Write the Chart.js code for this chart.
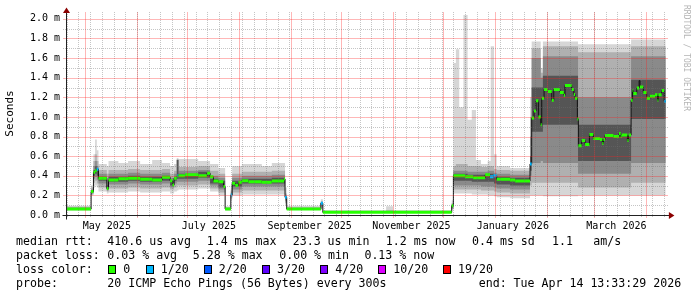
<!DOCTYPE html>
<html>
<head>
<meta charset="utf-8">
<script src="https://cdn.jsdelivr.net/npm/chart.js@4.4.0/dist/chart.umd.min.js"></script>
<style>
html, body { margin: 0; padding: 0; background: #fff; }
#wrap { width: 697px; height: 297px; }
</style>
</head>
<body>
<div id="wrap"><canvas id="smokeChart" width="697" height="297"></canvas></div>
<script>
// x = days since graph start (360 days ending Tue Apr 14 13:33:29 2026)
const startTime = Date.UTC(2025, 3, 19, 13, 33, 29);
const spanDays = 360;

// median rtt (ms) per step, and lost pings out of 20
const medDay = [0, 15.0, 16.4, 17.4, 18.4, 19.4, 24.4, 25.4, 31.3, 37.1, 44.3, 51.5, 57.4, 62.2, 63.6, 64.6,
    66.2, 66.6, 67.2, 71.2, 79.0, 84.2, 86.1, 88.1, 91.1, 94.1, 95.1, 98.5, 99.3, 101.1, 103.0, 105.1,
    109.0, 117.0, 123.0, 130.3, 130.9, 131.9, 152.3, 153.5, 230.5, 231.5, 238.5, 243.3, 250.5, 253.4,
    255.4, 257.4, 265.4, 268.4, 277.3, 278.3, 279.7, 280.9, 282.3, 283.7, 284.3, 285.7, 287.9, 290.3,
    291.5, 295.2, 297.5, 298.2, 302.2, 303.5, 304.2, 305.6, 306.2, 308.2, 310.2, 312.8, 315.1, 319.1,
    320.5, 321.2, 322.1, 327.1, 330.5, 331.5, 332.1, 335.5, 336.2, 337.7, 338.6, 339.0, 341.1, 342.5,
    343.0, 345.0, 347.0, 349.0, 352.0, 353.5, 354.0, 356.0, 357.5];
const medMs = [0.061, 0.24, 0.436, 0.45, 0.467, 0.375, 0.27, 0.357, 0.37, 0.375, 0.365, 0.357, 0.385, 0.35, 0.307, 0.375,
    0.39, 0.40, 0.40, 0.41, 0.40, 0.426, 0.39, 0.347, 0.34, 0.29, 0.061, 0.204, 0.324, 0.30, 0.334, 0.35,
    0.34, 0.334, 0.347, 0.367, 0.18, 0.061, 0.12, 0.027, 0.095, 0.40, 0.39, 0.38, 0.41, 0.39,
    0.40, 0.365, 0.357, 0.347, 0.52, 0.99, 1.06, 1.165, 1.0, 0.92, 1.19, 1.28, 1.26, 1.17,
    1.28, 1.25, 1.22, 1.32, 1.28, 1.23, 1.19, 0.98, 0.705, 0.76, 0.72, 0.82, 0.78, 0.77,
    0.73, 0.77, 0.81, 0.80, 0.83, 0.80, 0.815, 0.76, 0.815, 1.17, 1.27, 1.24, 1.295, 1.37,
    1.305, 1.25, 1.19, 1.21, 1.226, 1.17, 1.226, 1.27, 1.16];
const medLoss = [0, 0, 0, 0, 1, 0, 0, 0, 0, 0, 0, 0, 0, 0, 0, 0,
    0, 1, 0, 0, 0, 0, 0, 0, 0, 0, 0, 1, 0, 0, 0, 0,
    0, 0, 0, 0, 1, 0, 1, 0, 0, 0, 0, 0, 0, 1,
    1, 0, 0, 0, 1, 0, 0, 0, 0, 0, 0, 0, 0, 0,
    0, 0, 0, 0, 0, 0, 0, 0, 0, 0, 0, 0, 0, 0,
    0, 0, 0, 0, 0, 0, 0, 0, 0, 0, 0, 0, 0, 0,
    0, 0, 0, 0, 0, 0, 0, 0, 1];
const medEnd = 358.4;

// smoke: spread of the 20 pings per step (ms)
const smokeDay = [0, 15.0, 16.4, 17.4, 18.4, 19.4, 24.4, 25.4, 31.3, 37.1, 44.3, 51.5, 57.4, 62.2, 64.6, 66.2,
    67.2, 79.0, 86.1, 91.1, 95.1, 98.5, 99.3, 105.1, 117.0, 123.0, 130.9, 131.9, 152.3, 153.5, 191.3, 195.5,
    230.5, 231.5, 233.0, 235.0, 237.5, 240.0, 242.5, 245.0, 248.0, 252.0, 253.8, 255.8, 257.4, 265.4,
    277.3, 278.3, 283.7, 285.0, 306.0, 337.7];
const smokeMin = [.045, .20, .28, .30, .28, .24, .22, .23, .23, .24, .23, .23, .24, .22, .24, .25,
    .26, .27, .24, .20, .045, .15, .20, .21, .21, .21, .10, .050, .05, .020, .020, .020,
    .05, .22, .22, .22, .22, .22, .21, .21, .21, .20, .20, .19, .18, .17,
    .20, .20, .20, .19, .20, .20];
const smokeLo1 = [.050, .21, .33, .35, .32, .28, .24, .27, .27, .28, .27, .27, .28, .26, .28, .30,
    .30, .31, .27, .23, .050, .17, .23, .25, .25, .25, .12, .053, .07, .021, .021, .021,
    .06, .26, .26, .26, .26, .26, .26, .26, .25, .25, .25, .24, .23, .22,
    .30, .33, .33, .33, .28, .33];
const smokeLo2 = [.055, .22, .37, .39, .36, .32, .25, .31, .31, .32, .31, .31, .32, .28, .32, .34,
    .34, .35, .30, .26, .055, .18, .26, .29, .29, .29, .14, .056, .09, .023, .023, .023,
    .07, .30, .30, .30, .30, .30, .30, .30, .29, .29, .29, .28, .27, .26,
    .40, .53, .55, .53, .42, .53];
const smokeLo3 = [.058, .23, .40, .42, .40, .35, .26, .34, .34, .35, .34, .34, .35, .30, .35, .37,
    .37, .38, .32, .28, .058, .19, .29, .32, .32, .32, .16, .058, .11, .025, .025, .025,
    .08, .35, .35, .35, .35, .35, .34, .34, .34, .34, .34, .32, .31, .30,
    .45, .85, .85, .92, .55, .98];
const smokeHi3 = [.068, .25, .46, .50, .47, .39, .30, .39, .39, .40, .39, .39, .40, .35, .39, .56,
    .42, .44, .37, .35, .066, .22, .35, .37, .37, .38, .19, .066, .125, .030, .030, .030,
    .10, .42, .42, .42, .42, .41, .41, .41, .41, .42, .42, .40, .39, .38,
    .60, 1.30, 1.30, 1.42, .92, 1.38];
const smokeHi2 = [.075, .26, .50, .55, .50, .42, .36, .42, .42, .43, .42, .42, .43, .38, .42, .56,
    .45, .46, .40, .38, .070, .24, .38, .40, .40, .41, .20, .072, .13, .034, .036, .034,
    .11, .45, .45, .45, .45, .44, .44, .44, .44, .45, .45, .43, .42, .41,
    .80, 1.60, 1.40, 1.62, 1.20, 1.62];
const smokeHi1 = [.085, .28, .55, .62, .55, .46, .42, .46, .46, .47, .46, .46, .47, .42, .45, .57,
    .49, .50, .45, .42, .080, .26, .42, .44, .44, .45, .22, .080, .14, .040, .050, .040,
    .12, .50, .52, .52, .52, .50, .50, .50, .49, .50, .50, .47, .46, .45,
    1.00, 1.70, 1.45, 1.72, 1.66, 1.72];
const smokeMax = [.095, .30, .62, .77, .66, .52, .50, .55, .53, .55, .52, .56, .53, .50, .52, .58,
    .57, .55, .52, .48, .090, .30, .50, .52, .50, .53, .28, .095, .16, .050, .090, .050,
    .15, 1.55, 1.69, 1.10, 2.04, .97, 1.07, .56, .52, .55, 1.72, .62, .50, .48,
    1.20, 1.77, 1.50, 1.77, 1.74, 1.79];
const smokeEnd = 358.4;

// axis ticks
const yTicks = [0, 0.1, 0.2, 0.3, 0.4, 0.5, 0.6, 0.7, 0.8, 0.9, 1.0, 1.1, 1.2, 1.3, 1.4, 1.5, 1.6, 1.7, 1.8, 1.9, 2.0];
const yMajor = [0, 0.2, 0.4, 0.6, 0.8, 1.0, 1.2, 1.4, 1.6, 1.8, 2.0];
const xLabels = ['May 2025', 'July 2025', 'September 2025', 'November 2025', 'January 2026', 'March 2026'];
const xLabelDays = [24.4, 85.4, 145.6, 206.4, 267.0, 328.9];

const lossLevels = [0, 1, 2, 3, 4, 10, 19];
const lossColors = ['#26ff00', '#00b8ff', '#0059ff', '#5e00ff', '#7e00ff', '#dd00ff', '#ff0000'];
const smokeShades = ['#d6d6d6', '#b0b0b0', '#8a8a8a', '#555555'];

// grid ticks: Sundays (minor) and month starts (major)
const DAY = 86400000;
const gridTicks = [];
for (let m = 4; m < 16; m++) {
    gridTicks.push({ value: (Date.UTC(2025, m, 1) - startTime) / DAY, major: true });
}
for (let t = Date.UTC(2025, 3, 20); t < startTime + spanDays * DAY; t += 7 * DAY) {
    gridTicks.push({ value: (t - startTime) / DAY, major: false });
}
gridTicks.sort((a, b) => a.value - b.value);

function colorForLoss(n) {
    let c = lossColors[0];
    lossLevels.forEach((l, i) => { if (n >= l) c = lossColors[i]; });
    return c;
}

function stepPoints(days, vals, end) {
    const pts = days.map((d, i) => ({ x: d, y: vals[i] }));
    pts.push({ x: end, y: vals[vals.length - 1] });
    return pts;
}

// chart.js 'before' = hold the value until the next point
const STEP = 'before';

const datasets = [];
const bands = [[smokeMin, smokeMax], [smokeLo1, smokeHi1], [smokeLo2, smokeHi2], [smokeLo3, smokeHi3]];
bands.forEach(([lo, hi], k) => {
    datasets.push({
        data: stepPoints(smokeDay, lo, smokeEnd), stepped: STEP,
        borderWidth: 0, borderColor: 'rgba(0,0,0,0)', pointRadius: 0, fill: false, order: 10 - k
    });
    datasets.push({
        data: stepPoints(smokeDay, hi, smokeEnd), stepped: STEP,
        borderWidth: 0, borderColor: 'rgba(0,0,0,0)', pointRadius: 0,
        fill: '-1', backgroundColor: smokeShades[k], order: 10 - k
    });
});

// thin black median line (shows the jumps)
datasets.push({
    data: stepPoints(medDay, medMs, medEnd), stepped: STEP,
    borderWidth: 1, borderColor: '#111', pointRadius: 0, fill: false, order: 2
});

// coloured median pieces, only the flat parts
const medPieces = [];
medDay.forEach((d, i) => {
    const next = i + 1 < medDay.length ? medDay[i + 1] : medEnd;
    medPieces.push({ x: d, y: medMs[i] });
    medPieces.push({ x: next, y: medMs[i] });
});
datasets.push({
    data: medPieces, borderWidth: 3, pointRadius: 0, fill: false, order: 1,
    borderColor: lossColors[0],
    segment: {
        borderColor: ctx => ctx.p0.parsed.x === ctx.p1.parsed.x
            ? 'rgba(0,0,0,0)'
            : colorForLoss(medLoss[Math.floor(ctx.p0DataIndex / 2)])
    }
});

const MONO = '"DejaVu Sans Mono", "Liberation Mono", monospace';
const MINOR = 'rgba(110,110,110,0.4)';
const MAJOR = 'rgba(255,30,30,0.32)';

// rrdtool style grid, snapped to pixels, drawn over the smoke
const gridOverlay = {
    id: 'gridOverlay',
    afterDatasetsDraw(chart) {
        const { ctx, chartArea: a, scales } = chart;
        const top = Math.round(a.top), bottom = Math.round(a.bottom);
        const left = Math.round(a.left), right = Math.round(a.right);
        const line = (x1, y1, x2, y2, major) => {
            ctx.strokeStyle = major ? MAJOR : MINOR;
            ctx.setLineDash(major ? [] : [1, 1]);
            ctx.beginPath();
            ctx.moveTo(x1, y1);
            ctx.lineTo(x2, y2);
            ctx.stroke();
        };
        ctx.save();
        ctx.lineWidth = 1;
        scales.x.ticks.forEach(t => {
            const px = Math.round(scales.x.getPixelForValue(t.value)) + 0.5;
            if (px < left || px > right) return;
            line(px, top, px, bottom + 3, t.major);
        });
        scales.y.ticks.forEach(t => {
            if (t.value === 0) return;
            const py = Math.round(scales.y.getPixelForValue(t.value)) + 0.5;
            line(left - 3, py, right, py, yMajor.includes(t.value));
        });
        ctx.restore();
    }
};

const decorations = {
    id: 'decorations',
    afterDraw(chart) {
        const ctx = chart.ctx;
        const a = chart.chartArea;
        const ax = Math.floor(a.left) + 0.5;
        const ay = Math.floor(a.bottom) + 0.5;
        ctx.save();
        // axes
        ctx.strokeStyle = '#222';
        ctx.lineWidth = 1;
        ctx.beginPath();
        ctx.moveTo(ax, ay + 4);
        ctx.lineTo(ax, 10);
        ctx.moveTo(ax - 4, ay);
        ctx.lineTo(a.right + 1, ay);
        ctx.stroke();
        ctx.fillStyle = '#8b0000';
        ctx.beginPath();
        ctx.moveTo(ax - 3.5, 13);
        ctx.lineTo(ax + 3.5, 13);
        ctx.lineTo(ax, 7.5);
        ctx.closePath();
        ctx.fill();
        ctx.beginPath();
        ctx.moveTo(a.right + 0.5, ay - 3.5);
        ctx.lineTo(a.right + 0.5, ay + 3.5);
        ctx.lineTo(a.right + 6, ay);
        ctx.closePath();
        ctx.fill();

        // watermark
        ctx.fillStyle = '#b5b5b5';
        ctx.font = '8px ' + MONO;
        ctx.textBaseline = 'middle';
        ctx.translate(686.5, 5);
        ctx.rotate(Math.PI / 2);
        ctx.fillText('RRDTOOL / TOBI OETIKER', 0, 0);
        ctx.restore();

        // legend
        ctx.save();
        ctx.fillStyle = '#000';
        ctx.font = '11.6px ' + MONO;
        ctx.textBaseline = 'alphabetic';
        const rows = [
            [245.3, [[16, 'median rtt:'], [107.3, '410.6 us avg'], [206.7, '1.4 ms max'], [292.7, '23.3 us min'],
                [385.8, '1.2 ms now'], [472, '0.4 ms sd'], [552, '1.1'], [593.3, 'am/s']]],
            [259.3, [[16, 'packet loss:'], [107.3, '0.03 % avg'], [192.8, '5.28 % max'], [279.2, '0.00 % min'],
                [364.4, '0.13 % now']]],
            [273.3, [[16, 'loss color:']]],
            [287.4, [[16, 'probe:'], [107.3, '20 ICMP Echo Pings (56 Bytes) every 300s'],
                [478.7, 'end: Tue Apr 14 13:33:29 2026']]]
        ];
        rows.forEach(([y, parts]) => parts.forEach(([x, t]) => ctx.fillText(t, x, y)));
        const swatchX = [108, 145.5, 203.5, 261.8, 320, 378, 442.7];
        lossLevels.forEach((l, i) => {
            const x = Math.round(swatchX[i]);
            ctx.fillStyle = lossColors[i];
            ctx.fillRect(x, 265, 7, 8);
            ctx.strokeStyle = '#000';
            ctx.strokeRect(x + 0.5, 265.5, 7, 8);
            ctx.fillStyle = '#000';
            ctx.fillText(l === 0 ? '0' : l + '/20', swatchX[i] + 15.3, 273.3);
        });
        ctx.restore();
    }
};

Chart.defaults.font.family = MONO;
Chart.defaults.font.size = 10;
Chart.defaults.color = '#000';

new Chart(document.getElementById('smokeChart').getContext('2d'), {
    type: 'line',
    data: { datasets },
    options: {
        responsive: false,
        animation: false,
        events: [],
        layout: { padding: { left: 0, top: 12, right: 28.6, bottom: 62 } },
        plugins: { legend: { display: false }, tooltip: { enabled: false } },
        scales: {
            x: {
                type: 'linear', min: 0, max: spanDays, position: 'bottom',
                afterBuildTicks: s => { s.ticks = gridTicks.map(t => ({ value: t.value, major: t.major })); },
                afterFit: s => { s.height = 0; },
                ticks: { display: false, autoSkip: false },
                grid: { display: false, drawTicks: false, tickLength: 0 },
                border: { display: false }
            },
            xl: {
                type: 'linear', min: 0, max: spanDays, position: 'bottom',
                afterBuildTicks: s => { s.ticks = xLabelDays.map(v => ({ value: v })); },
                afterFit: s => { s.height = 20; },
                ticks: { autoSkip: false, maxRotation: 0, padding: 5, callback: (v, i) => xLabels[i] },
                grid: { display: false, drawTicks: false, tickLength: 0 },
                border: { display: false }
            },
            y: {
                type: 'linear', min: 0, max: 2.07,
                afterBuildTicks: s => { s.ticks = yTicks.map(v => ({ value: v })); },
                afterFit: s => { s.width = 66; },
                ticks: {
                    autoSkip: false, padding: 3,
                    callback: v => yMajor.includes(v) ? v.toFixed(1) + ' m' : ''
                },
                grid: { display: false, drawTicks: true, tickLength: 3 },
                border: { display: false },
                title: { display: true, text: 'Seconds', font: { size: 11 }, padding: { top: 4, bottom: 0 } }
            }
        }
    },
    plugins: [gridOverlay, decorations]
});
</script>
</body>
</html>
